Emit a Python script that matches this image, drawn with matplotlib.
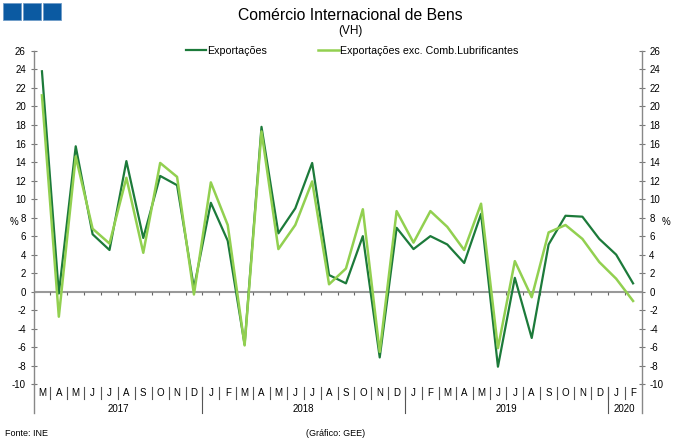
import matplotlib
matplotlib.use("Agg")
import matplotlib.pyplot as plt
from matplotlib.patches import Rectangle

plt.rcParams['font.family'] = ['Liberation Sans', 'DejaVu Sans']

months = ["M", "A", "M", "J", "J", "A", "S", "O", "N", "D",
          "J", "F", "M", "A", "M", "J", "J", "A", "S", "O", "N", "D",
          "J", "F", "M", "A", "M", "J", "J", "A", "S", "O", "N", "D",
          "J", "F"]
years = ["2017", "2018", "2019", "2020"]
year_counts = [10, 12, 12, 2]

exportacoes = [23.8, -0.2, 15.7, 6.2, 4.5, 14.1, 5.8, 12.5, 11.5, 0.4,
               9.6, 5.5, -5.7, 17.8, 6.3, 9.0, 13.9, 1.8, 0.9, 6.0, -7.1, 6.9,
               4.6, 6.0, 5.1, 3.1, 8.4, -8.1, 1.5, -5.0, 5.1, 8.2, 8.1, 5.7,
               4.0, 0.9]
export_exc = [21.2, -2.7, 14.6, 6.8, 5.2, 12.3, 4.2, 13.9, 12.4, -0.3,
              11.8, 7.2, -5.8, 17.3, 4.6, 7.2, 11.9, 0.8, 2.5, 8.9, -6.5, 8.7,
              5.3, 8.7, 7.0, 4.5, 9.5, -6.1, 3.3, -0.6, 6.4, 7.2, 5.7, 3.2,
              1.4, -1.0]
yticks = list(range(-10, 27, 2))

W, H = 680, 446
fig = plt.figure(figsize=(W / 100, H / 100), dpi=100)
left, right, top, bottom = 33.5, 641.5, 50.9, 384.3
ax = fig.add_axes([left / W, 1 - bottom / H, (right - left) / W, (bottom - top) / H])

dark = '#1c7a3a'
light = '#92d050'
n = len(months)
x = [i + 0.5 for i in range(n)]
ax.plot(x, exportacoes, color=dark, lw=1.6, label='Exportações', zorder=3)
ax.plot(x, export_exc, color=light, lw=1.8, label='Exportações exc. Comb.Lubrificantes', zorder=4)

ax.set_xlim(0, n)
ax.set_ylim(-10, 26)
ax.set_yticks(yticks)
ax.set_yticklabels([str(v) for v in yticks])
ax.set_xticks([])
ax.yaxis.set_ticks_position('both')
ax.tick_params(axis='y', which='both', direction='inout', length=5, width=0.8,
               color='#777777', labelsize=7, labelleft=True, labelright=True, pad=3)
for s in ['top', 'bottom']:
    ax.spines[s].set_visible(False)
for s in ['left', 'right']:
    ax.spines[s].set_color('#888888')
    ax.spines[s].set_linewidth(1.0)

ax.axhline(0, color='#999999', lw=1.5, zorder=2)
ax.vlines(range(1, n), -0.4, 0, color='#666666', lw=0.8, zorder=2)

tr = ax.get_xaxis_transform()
ph = bottom - top
def fy(py):
    return (bottom - py) / ph

for xx in [0, n]:
    ax.plot([xx, xx], [0, fy(413)], transform=tr, color='#888888', lw=1.0, clip_on=False)
for i in range(n):
    ax.text(i + 0.5, fy(393.5), months[i], transform=tr, ha='center', va='center', fontsize=7)
for k in range(1, n):
    ax.plot([k, k], [fy(387), fy(399)], transform=tr, color='#555555', lw=0.8, clip_on=False)
start = 0
for yr, c in zip(years, year_counts):
    ax.text(start + c / 2, fy(409.5), yr, transform=tr, ha='center', va='center', fontsize=7)
    start += c
    if start < n:
        ax.plot([start, start], [fy(387), fy(413)], transform=tr, color='#555555', lw=0.8, clip_on=False)

fig.text(14 / W, 1 - 222 / H, '%', ha='center', va='center', fontsize=7)
fig.text(666 / W, 1 - 222 / H, '%', ha='center', va='center', fontsize=7)

fig.text(350 / W, 1 - 16 / H, 'Comércio Internacional de Bens', ha='center', va='center', fontsize=11.3)
fig.text(350 / W, 1 - 31 / H, '(VH)', ha='center', va='center', fontsize=8.5)

fig.legend(loc='center', bbox_to_anchor=(352 / W, 1 - 51 / H), ncol=2, frameon=False,
           fontsize=7.7, handlelength=1.9, handletextpad=0.1, columnspacing=4.8)

fig.text(5 / W, 1 - 433 / H, 'Fonte: INE', ha='left', va='center', fontsize=6.5)
fig.text(336 / W, 1 - 433 / H, '(Gráfico: GEE)', ha='center', va='center', fontsize=6.5)

for x0 in [3, 23, 43]:
    fig.patches.append(Rectangle((x0 / W, 1 - 20 / H), 18 / W, 17 / H, transform=fig.transFigure,
                                 facecolor='#0b5aa2', edgecolor='#6f9cc8', lw=0.6))

fig.savefig('out.png', dpi=100)
